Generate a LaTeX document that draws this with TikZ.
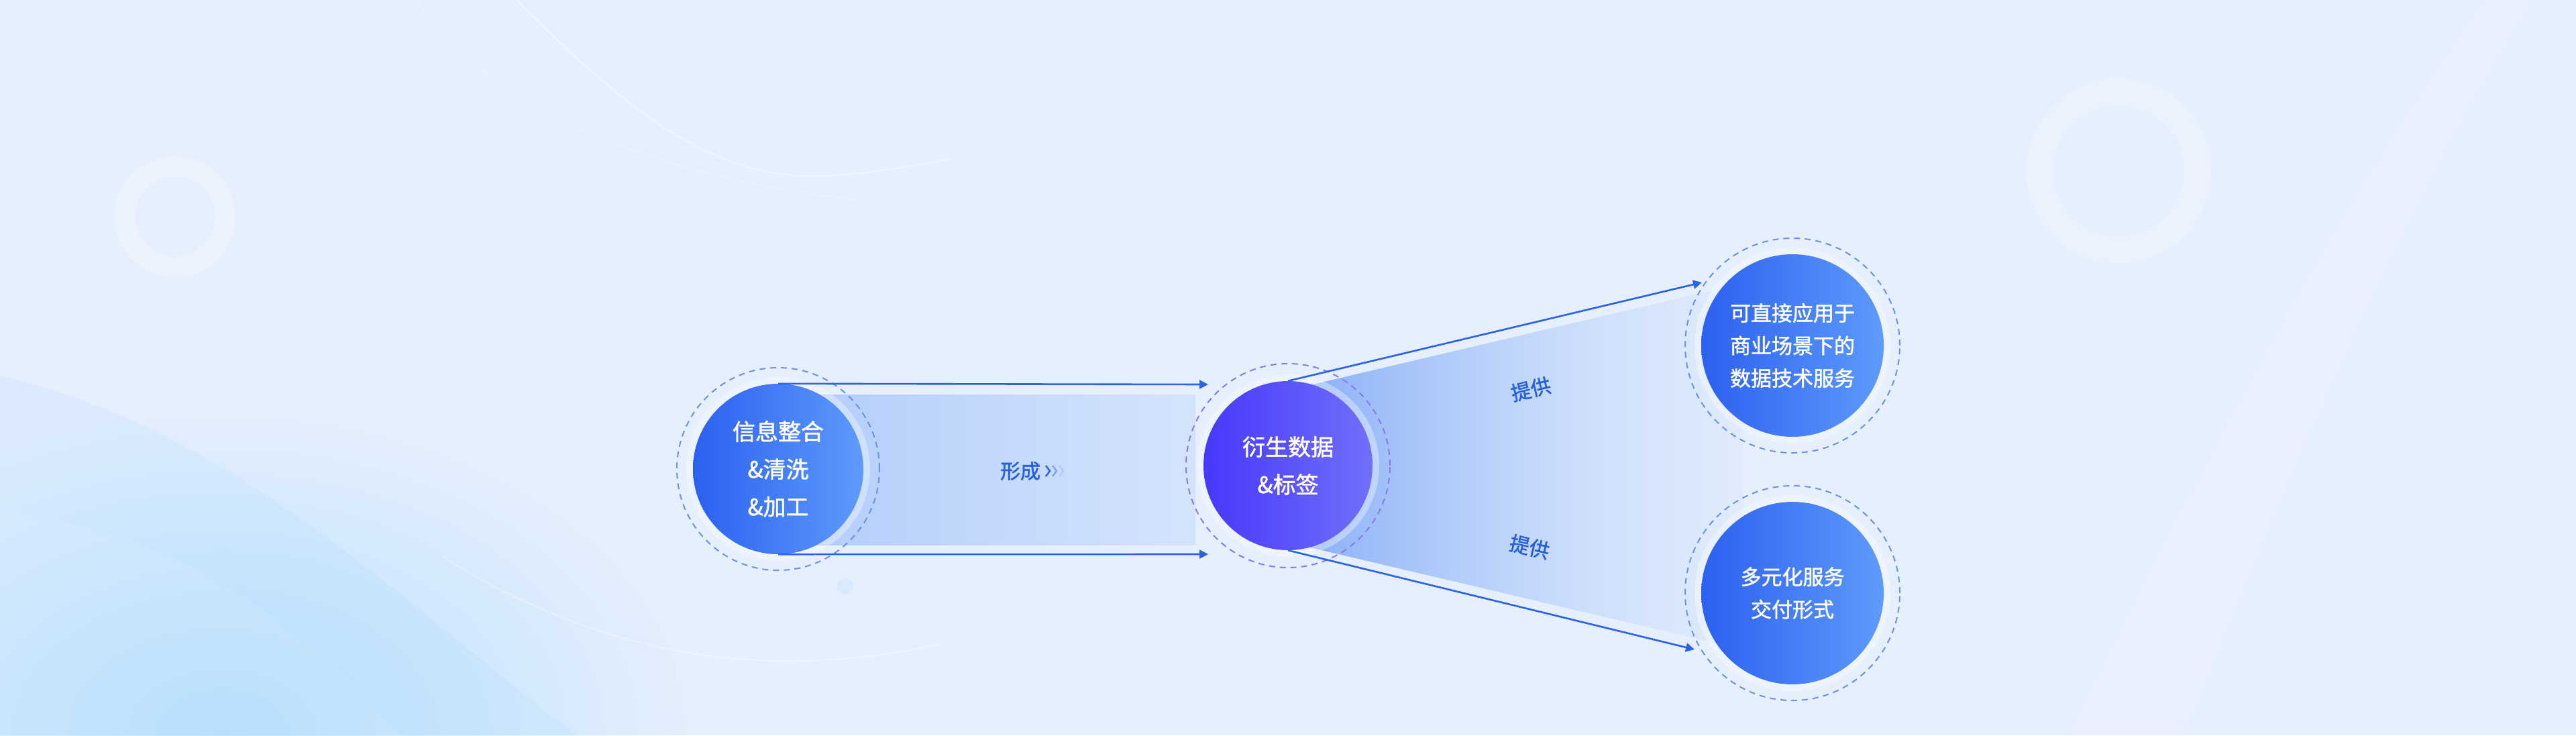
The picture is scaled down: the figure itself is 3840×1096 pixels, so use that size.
\documentclass[tikz,border=0pt]{standalone}
\usepackage{fontspec}
\newfontfamily\cjk{Noto Sans CJK SC}[FakeBold=1.5]
\usetikzlibrary{arrows.meta,fadings,shadings}

\definecolor{bgMain}{HTML}{E5EFFD}
\definecolor{glowC}{HTML}{96D4FE}
\definecolor{arrowblue}{HTML}{2A63E6}
\definecolor{ringblue}{HTML}{6A92EC}
\definecolor{ringpurple}{HTML}{8878F2}
\definecolor{cdark}{HTML}{2C60F0}
\definecolor{clight}{HTML}{5D9BFB}
\definecolor{pdark}{HTML}{4638FC}
\definecolor{plight}{HTML}{716FFB}
\definecolor{labelblue}{HTML}{2660DC}
\definecolor{bandL}{HTML}{B1CCFA}
\definecolor{bandR}{HTML}{D4E4FD}
\definecolor{fanL}{HTML}{86ADF7}
\definecolor{fanR}{HTML}{C6DBFC}
\definecolor{tagband}{HTML}{A9C7F9}

\tikzfading[name=fadeedges, left color=transparent!100, middle color=transparent!0, right color=transparent!100]
\tikzfading[name=radfade, inner color=transparent!0, outer color=transparent!100]
\tikzfading[name=fanfade, left color=transparent!0, middle color=transparent!0, right color=transparent!85]

\tikzset{
  core/.style={circle, inner sep=0pt, minimum size=#1, text=white, align=center},
  halo/.style={circle, inner sep=0pt, minimum size=#1, fill=white, fill opacity=0.35},
  ringdash/.style={circle, inner sep=0pt, minimum size=#1, line width=2pt, dash pattern=on 9pt off 7pt},
  arr/.style={draw=arrowblue, line width=2.6pt, -{Triangle[length=13pt,width=13pt]}},
  bigtext/.style={font=\cjk\fontsize{34}{56}\selectfont},
  smalltext/.style={font=\cjk\fontsize{31}{48.5}\selectfont},
  tagtext/.style={font=\cjk\fontsize{30}{36}\selectfont, text=labelblue, inner sep=0pt},
}

\begin{document}
\begin{tikzpicture}[x=1pt,y=-1pt]
\useasboundingbox (0,0) rectangle (3840,1096);
% background
\fill[bgMain] (0,0) rectangle (3840,1096);
\fill[glowC, opacity=0.6, path fading=radfade] (330,1096) ellipse [x radius=700pt, y radius=480pt];
\fill[glowC, opacity=0.12] (0,560) .. controls (350,640) and (600,900) .. (860,1096) -- (0,1096) -- cycle;
\fill[white, opacity=0.08] (0,760) .. controls (300,800) and (480,960) .. (600,1096) -- (0,1096) -- cycle;
\draw[white, opacity=0.5, line width=1.5pt] (770,0) .. controls (930,160) and (1060,270) .. (1230,262) .. controls (1300,258) and (1350,250) .. (1420,236);
\draw[white, opacity=0.4, line width=1.5pt] (660,830) .. controls (820,930) and (1000,990) .. (1200,985) .. controls (1280,982) and (1330,975) .. (1400,960);
\draw[white, opacity=0.3, line width=1.5pt] (620,0) .. controls (700,120) and (900,260) .. (1300,300);
\draw[white, opacity=0.3, line width=30pt] (261,323) circle [radius=75pt];
\draw[white, opacity=0.22, line width=40pt] (3158,255) circle [radius=118pt];
\fill[white, opacity=0.12] (3700,0) .. controls (3450,350) and (3250,750) .. (3080,1096) -- (3260,1096) .. controls (3400,750) and (3560,350) .. (3780,0) -- cycle;
\fill[glowC, opacity=0.15] (1260,874) circle [radius=12pt];

% bands
\fill[left color=bandL, right color=bandR] (1160,588) rectangle (1782,812);
\fill[tagband, opacity=0.6, path fading=fadeedges] (1420,672) rectangle (1682,728);
\shade[left color=fanL, right color=fanR, path fading=fanfade] (1925,580) -- (2600,421) -- (2600,968) -- (1925,809) -- cycle;
\node[rotate=13.3, minimum width=360pt, minimum height=58pt, inner sep=0pt, fill=white, path fading=fadeedges, opacity=0.12] (b1) at (2290,580) {};
\node[rotate=-13.3, minimum width=360pt, minimum height=58pt, inner sep=0pt, fill=white, path fading=fadeedges, opacity=0.12] (b2) at (2290,815) {};

% labels
\node[tagtext] (xc) at (1521,702) {形成};
\draw[labelblue, line width=2.3pt] (1559,694) -- (1565,702) -- (1559,710);
\draw[labelblue!60!white, line width=2.3pt] (1569,694) -- (1575,702) -- (1569,710);
\draw[labelblue!35!white, line width=2.3pt] (1579,694) -- (1585,702) -- (1579,710);
\node[tagtext, rotate=13.3] (tg1) at (2282,580) {提供};
\node[tagtext, rotate=-13.3] (tg2) at (2280,815) {提供};

% halos and rings
\node[halo=274pt] (Lh) at (1160,699) {};
\node[ringdash=302pt, draw=ringblue] (Lr) at (1160,699) {};
\node[halo=272pt] (Mh) at (1920,694) {};
\node[ringdash=304pt, draw=ringpurple] (Mr) at (1920,694) {};
\node[halo=292pt] (R1h) at (2672,515) {};
\node[ringdash=320pt, draw=ringblue] (R1r) at (2672,515) {};
\node[halo=292pt] (R2h) at (2672,884) {};
\node[ringdash=320pt, draw=ringblue] (R2r) at (2672,884) {};

% main circles
\node[core=254pt, left color=cdark, right color=clight, bigtext] (L) at (1160,699) {信息整合\\\&清洗\\\&加工};
\node[core=252pt, left color=pdark, right color=plight, bigtext] (M) at (1920,694) {衍生数据\\\&标签};
\node[core=272pt, shading angle=45, left color=cdark, right color=clight, smalltext] (R1) at (2672,515) {可直接应用于\\商业场景下的\\数据技术服务};
\node[core=272pt, shading angle=45, left color=cdark, right color=clight, smalltext] (R2) at (2672,884) {多元化服务\\交付形式};

% connectors
\coordinate (t1) at (1801,573);
\coordinate (t2) at (1801,826);
\coordinate (t3) at (2537,421);
\coordinate (t4) at (2526,968);
\draw[arr] (L.north) -- (t1);
\draw[arr] (L.south) -- (t2);
\draw[arr] (M.north) -- (t3);
\draw[arr] (M.south) -- (t4);
\end{tikzpicture}
\end{document}
